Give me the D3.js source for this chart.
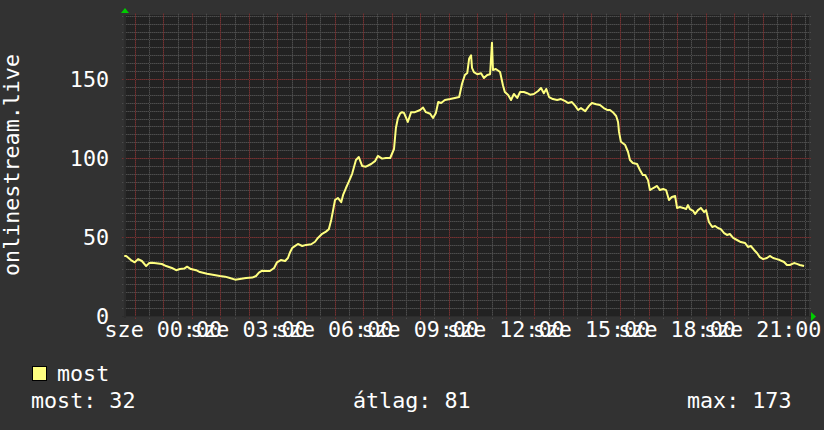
<!DOCTYPE html>
<html>
<head>
<meta charset="utf-8">
<script src="https://cdn.jsdelivr.net/npm/d3@7"></script>
<style>
  body { margin: 0; background: #323232; }
  svg { display: block; }
  text { font-family: "DejaVu Sans Mono", monospace; fill: #ffffff; font-size: 21.7px; }
</style>
</head>
<body>
<svg id="chart"></svg>
<script>
// minutes from sze 00:00, and listener counts
var minutes = [-82, -78, -68, -60, -53, -45, -36, -30, -24, -15, -3, 6, 18, 27, 35, 44, 50, 58, 69, 77,
  92, 107, 119, 130, 140, 151, 161, 174, 187, 195, 201, 208, 216, 224, 233, 239, 247, 256, 262, 266,
  271, 275, 283, 292, 300, 311, 319, 325, 334, 342, 348, 353, 357, 361, 367, 374, 378, 384, 390, 397,
  405, 411, 418, 426, 437, 445, 451, 460, 468, 477, 485, 489, 493, 498, 502, 506, 514, 521, 529, 540,
  546, 552, 561, 567, 573, 578, 584, 592, 603, 613, 622, 628, 634, 639, 643, 647, 649, 653, 660, 668,
  674, 681, 687, 691, 693, 699, 708, 714, 718, 725, 731, 737, 744, 750, 758, 765, 771, 779, 788, 794,
  800, 805, 811, 819, 828, 836, 845, 851, 859, 866, 872, 878, 887, 895, 901, 910, 918, 926, 933, 939,
  945, 952, 956, 958, 962, 971, 977, 981, 987, 996, 1002, 1008, 1013, 1019, 1023, 1030, 1038, 1044, 1051,
  1057, 1063, 1069, 1076, 1080, 1086, 1093, 1099, 1103, 1107, 1114, 1118, 1124, 1130, 1137, 1141, 1147,
  1154, 1160, 1166, 1172, 1179, 1185, 1191, 1198, 1206, 1214, 1223, 1229, 1235, 1242, 1248, 1254, 1261,
  1269, 1275, 1282, 1290, 1296, 1305, 1311, 1317, 1326, 1332, 1338, 1347];
var viewers = [38, 38, 35.4, 34, 36, 34.8, 31.6, 33.5, 33.7, 33.4, 32.9, 31.6, 30.4, 29, 29.7, 30, 31.2, 29.7, 29, 27.8,
  26.8, 26, 25.3, 24.9, 24, 23, 23.4, 24, 24.3, 25.3, 27.4, 28.7, 28.5, 28.5, 30.4, 34, 35.4, 34.8, 36.7, 40,
  43, 43.9, 45.6, 44.3, 45, 45.4, 47, 49.4, 52, 53.4, 54.9, 60.8, 67, 73.4, 74.7, 72, 76.6, 81, 85, 90,
  98.7, 100.6, 95, 94.5, 96.2, 98, 101.3, 99.6, 100, 100, 105.7, 119, 125, 128.3, 129, 128.5, 122.8, 129, 129, 130.4,
  132, 129, 128, 125.3, 128.5, 135.4, 134.8, 136.7, 137.3, 138, 138.6, 147, 152.5, 153.8, 163, 165, 157, 154.4, 153, 153.6,
  150.6, 152.5, 153, 173, 155.7, 156.3, 154.4, 146, 141.8, 139.9, 136.7, 140.5, 138, 141.8, 141.8, 141, 140.1, 140.5, 142.4, 144.3,
  141, 143.7, 138.6, 137.3, 136.7, 137.3, 136, 134.8, 135.4, 133, 130.4, 131.6, 129.7, 133, 134.8, 134, 133.5, 131.6, 130.4, 130.4,
  129, 126.6, 122.8, 116.5, 110.3, 108.2, 103.8, 98.7, 96.8, 96.2, 92.4, 89.2, 89.2, 86, 79.7, 81, 82.3, 79.7, 80.4,
  79.7, 73.4, 75.3, 75.9, 68.4, 69, 68.4, 67.7, 70.2, 67.7, 66.5, 64.6, 67, 68.4, 65.8, 67, 59.5,
  56.3, 57, 55.7, 55, 52.5, 51.3, 51.9, 49.4, 48.1, 46.8, 46.2, 43.7, 44.3, 41.8, 39.9, 37.3, 36,
  36.7, 38, 36.7, 36, 35.4, 34.2, 32.3, 32.3, 33.5, 33, 32.3, 31.6];

var yTicks = [0, 50, 100, 150];
var xTickMinutes = [0, 180, 360, 540, 720, 900, 1080, 1260];
var xTickLabels = ["sze 00:00", "sze 03:00", "sze 06:00", "sze 09:00", "sze 12:00", "sze 15:00", "sze 18:00", "sze 21:00"];
var unitLabel = "onlinestream.live";
var legendName = "most";
var statLabels = ["most: 32", "átlag: 81", "max: 173"];

var width = 824, height = 430;
var plotLeft = 124, plotRight = 809, plotTop = 15, plotBottom = 316;
var lineColor = "#ffff80";

var svg = d3.select("#chart").attr("width", width).attr("height", height);
svg.append("rect").attr("width", width).attr("height", height).attr("fill", "#323232");

var x = d3.scaleLinear().domain([-82.6, 1357.4]).range([plotLeft, plotRight]);
var y = d3.scaleLinear().domain([0, 301 * 50 / 79]).range([plotBottom, plotTop]);

// canvas
svg.append("rect").attr("x", plotLeft).attr("y", plotTop)
  .attr("width", plotRight - plotLeft).attr("height", plotBottom - plotTop).attr("fill", "#222222");

// grid: faint solid line with single pixel dots on top
var minorY = d3.range(5, 191, 5).filter(function(v) { return v % 50 != 0; });
var majorY = d3.range(50, 191, 50);
var minorX = d3.range(-60, 1358, 30).filter(function(m) { return m % 60 != 0; });
var majorX = d3.range(-60, 1358, 60);

function gridPath(yVals, xVals, dotted) {
  var d = "";
  yVals.forEach(function(v) {
    var py = Math.round(y(v));
    if (!dotted) { d += "M" + (plotLeft - 2) + "," + py + "h" + (plotRight - plotLeft + 4) + "v1H" + (plotLeft - 2) + "z"; return; }
    for (var px = plotLeft - 2; px <= plotRight + 2; px += 2) d += "M" + px + "," + py + "h1v1h-1z";
  });
  xVals.forEach(function(m) {
    var px = Math.round(x(m));
    if (!dotted) { d += "M" + px + "," + (plotTop - 2) + "v" + (plotBottom - plotTop + 4) + "h1V" + (plotTop - 2) + "z"; return; }
    for (var py = plotTop - 1; py <= plotBottom + 2; py += 2) d += "M" + px + "," + py + "h1v1h-1z";
  });
  return d;
}
var grid = svg.append("g").attr("shape-rendering", "crispEdges");
grid.append("path").attr("d", gridPath(minorY, minorX, false)).attr("fill", "#393939");
grid.append("path").attr("d", gridPath(minorY, minorX, true)).attr("fill", "#4c4c4c");
grid.append("path").attr("d", gridPath(majorY, majorX, false)).attr("fill", "#562b2b");
grid.append("path").attr("d", gridPath(majorY, majorX, true)).attr("fill", "#743131");

// axis lines
svg.append("rect").attr("x", plotLeft).attr("y", plotTop).attr("width", 2).attr("height", plotBottom - plotTop + 2)
  .attr("fill", "#2c2c2c");
svg.append("rect").attr("x", plotLeft - 2).attr("y", plotBottom).attr("width", plotRight - plotLeft + 4).attr("height", 1)
  .attr("fill", "#2c2c2c");

// arrows
svg.append("path").attr("d", "M" + (plotLeft - 3) + ",13 L" + (plotLeft + 1) + ",8 L" + (plotLeft + 5) + ",13 Z").attr("fill", "#00cc00");
svg.append("path").attr("d", "M" + (plotRight + 2) + "," + (plotBottom - 4) + " L" + (plotRight + 7) + "," + (plotBottom + 0.5) + " L" + (plotRight + 2) + "," + (plotBottom + 5) + " Z").attr("fill", "#00cc00");

// y tick labels
svg.selectAll(null).data(yTicks).enter().append("text")
  .attr("x", 109).attr("y", function(v) { return y(v); })
  .attr("dy", "0.36em").attr("text-anchor", "end")
  .text(function(v) { return v; });

// x tick labels (they overlap, as in the source)
svg.selectAll(null).data(xTickMinutes).enter().append("text")
  .attr("x", function(m) { return x(m); }).attr("y", 337)
  .attr("text-anchor", "middle")
  .text(function(m, i) { return xTickLabels[i]; });

// unit label
svg.append("text").attr("transform", "translate(19,165) rotate(-90)")
  .attr("text-anchor", "middle").text(unitLabel);

// series
var line = d3.line()
  .x(function(d, i) { return x(minutes[i]); })
  .y(function(d) { return y(d); });
svg.append("path").datum(viewers)
  .attr("d", line).attr("fill", "none")
  .attr("stroke", lineColor).attr("stroke-width", 2).attr("stroke-linejoin", "round");

// legend
svg.append("rect").attr("x", 32.5).attr("y", 366.5).attr("width", 14).attr("height", 14)
  .attr("fill", lineColor).attr("stroke", "#000").attr("stroke-width", 1);
svg.append("text").attr("x", 57).attr("y", 381).text(legendName);
svg.append("text").attr("x", 31).attr("y", 408).text(statLabels[0]);
svg.append("text").attr("x", 353).attr("y", 408).text(statLabels[1]);
svg.append("text").attr("x", 687).attr("y", 408).text(statLabels[2]);
</script>
</body>
</html>
